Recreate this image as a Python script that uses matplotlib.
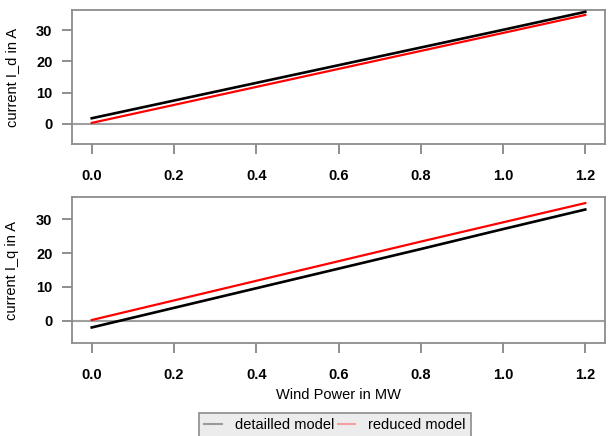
import matplotlib
matplotlib.use('Agg')
import matplotlib.pyplot as plt
from matplotlib.lines import Line2D

# ======================
# data
# ======================
wind_power = [0.0, 0.2, 0.4, 0.6, 0.8, 1.0, 1.2]

id_detailed = [1.7, 7.4, 13.1, 18.8, 24.5, 30.2, 36.0]
id_reduced = [0.2, 6.0, 11.8, 17.6, 23.4, 29.2, 35.0]

iq_detailed = [-2.0, 3.8, 9.6, 15.4, 21.2, 27.1, 32.9]
iq_reduced = [0.2, 6.0, 11.8, 17.6, 23.4, 29.1, 34.8]

x_ticks = [0.0, 0.2, 0.4, 0.6, 0.8, 1.0, 1.2]
y_ticks = [0, 10, 20, 30]
legend_labels = ['detailled model', 'reduced model']

# ======================
# style
# ======================
plt.rcParams['font.family'] = ['Liberation Sans', 'DejaVu Sans']
plt.rcParams['font.size'] = 10.5

fig = plt.figure(figsize=(6.09, 4.36), dpi=100)
W, H = 609, 436

def px_axes(left, top, right, bottom):
    return fig.add_axes([left / W, 1 - bottom / H, (right - left) / W, (bottom - top) / H])

ax_d = px_axes(72, 10, 605, 144)
ax_q = px_axes(72, 197, 605, 343)

panels = [
    (ax_d, id_detailed, id_reduced, 'current I_d in A'),
    (ax_q, iq_detailed, iq_reduced, 'current I_q in A'),
]

for ax, det, red, ylab in panels:
    ax.axhline(0, color='#a0a0a0', lw=1.5, zorder=1)
    ax.plot(wind_power, det, color='black', lw=1.9, zorder=3)
    ax.plot(wind_power, red, color='red', lw=1.6, zorder=2)
    ax.set_xlim(-0.048, 1.248)
    ax.set_ylim(-6.6, 36.6)
    ax.set_xticks(x_ticks)
    ax.set_xticklabels([f'{v:.1f}' for v in x_ticks], fontweight='bold')
    ax.set_yticks(y_ticks)
    ax.set_yticklabels([str(v) for v in y_ticks], fontweight='bold')
    ax.tick_params(axis='x', length=7, width=1.1, color='#707070', pad=11)
    ax.tick_params(axis='y', length=7, width=1.1, color='#707070', pad=7)
    for sp in ax.spines.values():
        sp.set_color('#8c8c8c')
        sp.set_linewidth(1.3)
    ax.set_ylabel(ylab)
    ax.yaxis.set_label_coords(-0.1, 0.5)

ax_q.set_xlabel('Wind Power in MW')
ax_q.xaxis.set_label_coords(0.5, -0.31)

handles = [
    Line2D([], [], color='#9a9a9a', lw=1.5),
    Line2D([], [], color='#f4a0a0', lw=1.5),
]
leg = fig.legend(handles, legend_labels, ncol=2, loc='upper center',
                 bbox_to_anchor=(0.55, 1 - 413 / H), frameon=True, fancybox=False,
                 facecolor='#ececec', edgecolor='#8c8c8c', framealpha=1,
                 handlelength=1.2, handletextpad=0.9, columnspacing=0.25,
                 borderpad=0.35, borderaxespad=0)
leg.get_frame().set_linewidth(1.2)

fig.savefig('out.png', dpi=100)
